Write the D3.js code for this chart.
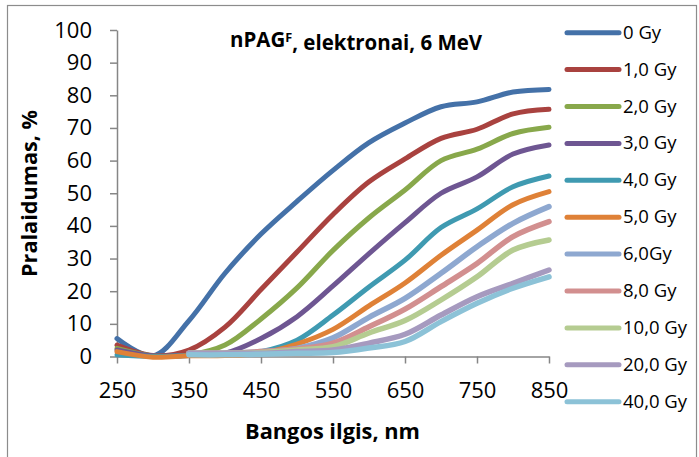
<!DOCTYPE html>
<html><head><meta charset="utf-8">
<script src="https://cdn.jsdelivr.net/npm/d3@7"></script>
<style>html,body{margin:0;padding:0;background:#fff;overflow:hidden}</style>
</head><body>
<svg id="c" width="699" height="457"></svg>
<script>
const wavelengthsFull = [250,300,350,400,450,500,550,600,650,700,750,800,850];
const wavelengthsShort = [350,400,450,500,550,600,650,700,750,800,850];
const seriesNames = ["0 Gy","1,0 Gy","2,0 Gy","3,0 Gy","4,0 Gy","5,0 Gy","6,0Gy","8,0 Gy","10,0 Gy","20,0 Gy","40,0 Gy"];
const colors = ["#4471a8","#a9423f","#88a84b","#6e5692","#3f9ab1","#df8137","#8ea8d0","#d28f8f","#b5cc91","#a69abf","#8cc2d7"];
const v0  = [5.5,0.2,11,25.5,37.5,47.5,57,65.5,71.5,76.5,78,81,81.8];
const v1  = [3.5,0.3,2,9,20.5,32,43.5,53.5,60.5,66.8,69.6,74.3,75.7];
const v2  = [2.5,0.2,0.5,3.5,11.5,21,32.5,42.5,51,60,63.5,68.3,70.2];
const v3  = [2,0.2,0.3,1,5.5,12.2,21.6,31.5,41,50,55,62,64.8];
const v4  = [0.5,0,0.3,0.5,1.5,5,12.7,21.3,29.5,39.5,45.2,52,55.3];
const v5  = [1.5,-0.2,0.2,0.3,1,3.8,8.3,15.5,22.5,31,38.7,46.5,50.5];
const v6  = [1,1,1.5,2.5,5.7,12,17.8,25.5,33.6,40.8,45.9];
const v8  = [1,1,1.5,2.3,4.1,9.1,14.5,21.4,28.5,36.7,41.3];
const v10 = [1,1,1.2,2,3,7.2,11,17.3,24.4,32.6,35.7];
const v20 = [1,1,1,1.5,2,4.1,6.8,12.7,18.3,22.4,26.5];
const v40 = [0.5,0.5,0.7,1,1.2,2.6,4.6,10.7,16.3,20.9,24.4];
const seriesValues = [v0,v1,v2,v3,v4,v5,v6,v8,v10,v20,v40];
const xTicks = [250,350,450,550,650,750,850];
const yTicks = [0,10,20,30,40,50,60,70,80,90,100];

const svg = d3.select("#c");
const font = "'Open Sans', Lato, sans-serif";
svg.append("rect").attr("x",7.5).attr("y",5.5).attr("width",689).attr("height",460)
  .attr("fill","#fff").attr("stroke","#8c8c8c").attr("stroke-width",1.2);

const x = d3.scaleLinear().domain([250,850]).range([117,549]);
const y = d3.scaleLinear().domain([0,100]).range([356.5,30]);

const axisColor = "#868686";
const gx = svg.append("g").attr("transform","translate(0,356.5)")
  .call(d3.axisBottom(x).tickValues(xTicks).tickSize(7).tickPadding(19).tickSizeOuter(0));
const gy = svg.append("g").attr("transform","translate(117,0)")
  .call(d3.axisLeft(y).tickValues(yTicks).tickSize(7).tickPadding(18).tickSizeOuter(0));
[gx,gy].forEach(g=>{
  g.select(".domain").attr("stroke",axisColor).attr("stroke-width",1.5);
  g.selectAll(".tick line").attr("stroke",axisColor).attr("stroke-width",1.5);
  g.selectAll(".tick text").attr("fill","#000").style("font-family",font).style("font-size","22px");
});

const line = d3.line().x(d=>x(d[0])).y(d=>y(d[1])).curve(d3.curveCatmullRom.alpha(0.5));
seriesValues.forEach((vals,i)=>{
  const wl = vals.length===wavelengthsFull.length ? wavelengthsFull : wavelengthsShort;
  svg.append("path").datum(wl.map((w,j)=>[w,vals[j]]))
    .attr("d",line).attr("fill","none").attr("stroke",colors[i])
    .attr("stroke-width",i>=6?5.5:5).attr("stroke-linecap","round").attr("stroke-linejoin","round");
});

function fit(sel, target){
  const w = sel.node().getBBox().width;
  const fs = parseFloat(sel.style("font-size"));
  sel.style("font-size",(fs*target/w).toFixed(2)+"px");
}

// title
const t = svg.append("text").attr("x",230).attr("y",47).style("font-family",font)
  .style("font-size","16px").style("font-weight","bold").attr("fill","#000");
t.append("tspan").text("nPAG");
t.append("tspan").attr("dy","-0.38em").style("font-size","0.62em").text("F");
t.append("tspan").attr("dy","0.38em").text(", elektronai, 6 MeV");
fit(t,253);

// axis titles
const xt = svg.append("text").attr("x",332.5).attr("y",439).attr("text-anchor","middle")
  .style("font-family",font).style("font-size","18px").style("font-weight","bold").text("Bangos ilgis, nm");
fit(xt,175);
const yt = svg.append("text").attr("transform","translate(37,193.5) rotate(-90)").attr("text-anchor","middle")
  .style("font-family",font).style("font-size","18px").style("font-weight","bold").text("Pralaidumas, %");
fit(yt,167);

// legend
const lg = svg.append("g");
seriesNames.forEach((n,i)=>{
  const yy = 32.7 + i*36.9;
  lg.append("line").attr("x1",567).attr("x2",619).attr("y1",yy).attr("y2",yy)
    .attr("stroke",colors[i]).attr("stroke-width",5).attr("stroke-linecap","round");
  lg.append("text").attr("x",623).attr("y",yy+6).style("font-family",font)
    .style("font-size","18.5px").text(n);
});
</script>
</body></html>
